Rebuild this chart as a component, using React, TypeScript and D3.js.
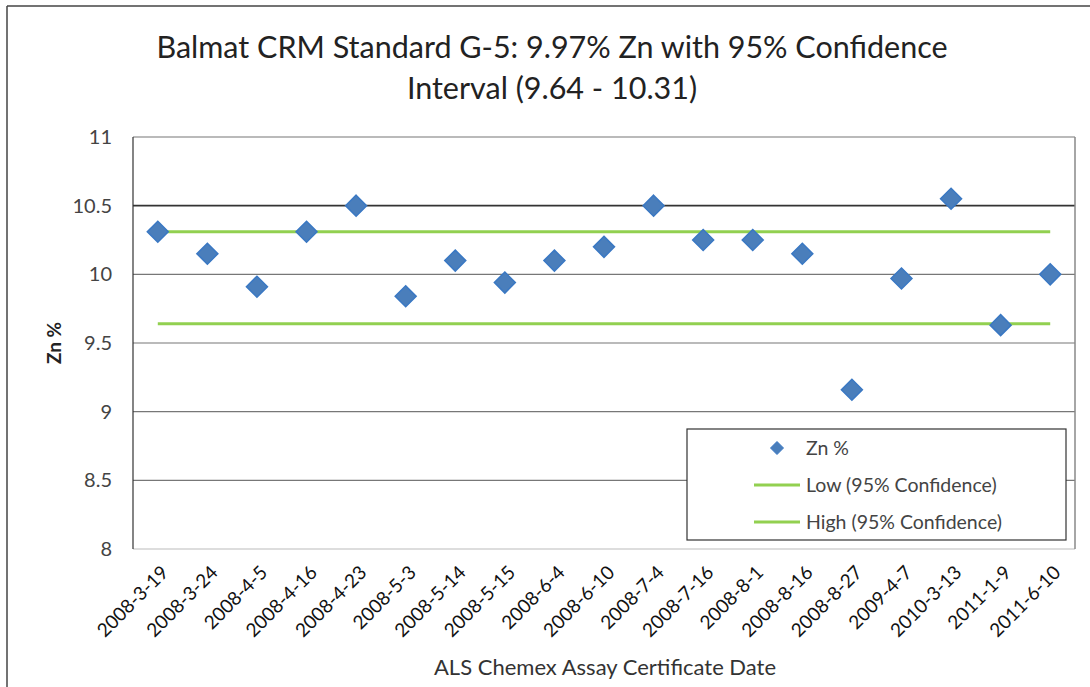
import React from "react";
import * as d3 from "d3";

const categories = ["2008-3-19","2008-3-24","2008-4-5","2008-4-16","2008-4-23","2008-5-3","2008-5-14","2008-5-15","2008-6-4","2008-6-10","2008-7-4","2008-7-16","2008-8-1","2008-8-16","2008-8-27","2009-4-7","2010-3-13","2011-1-9","2011-6-10"];
const znValues = [10.31,10.15,9.91,10.31,10.5,9.84,10.1,9.94,10.1,10.2,10.5,10.25,10.25,10.15,9.16,9.97,10.55,9.63,10.0];
const lowValue = 9.64;
const highValue = 10.31;
const yTicks = [8, 8.5, 9, 9.5, 10, 10.5, 11];

const W = 1090, H = 687;
const M = { left: 133, right: 1075, top: 137, bottom: 549 };
const FONT = "Lato, 'Open Sans', sans-serif";

export default function App() {
  const x = d3.scaleBand<string>().domain(categories).range([M.left, M.right]);
  const cx = (c: string) => (x(c) as number) + x.bandwidth() / 2;
  const y = d3.scaleLinear().domain([8, 11]).range([M.bottom, M.top]);
  const first = cx(categories[0]);
  const last = cx(categories[categories.length - 1]);
  const diamond = (px: number, py: number, r: number) =>
    `M${px},${py - r}L${px + r},${py}L${px},${py + r}L${px - r},${py}Z`;

  return (
    <svg width={W} height={H} style={{ position: "absolute", left: 0, top: 0, background: "#fff" }}>
      <rect x={0} y={0} width={W} height={H} fill="#fff" />
      {/* outer frame */}
      <line x1={7} y1={6} x2={W} y2={6} stroke="#444" strokeWidth={1.5} />
      <line x1={7} y1={6} x2={7} y2={H} stroke="#444" strokeWidth={1.5} />
      {/* title */}
      <text x={552} y={58} textAnchor="middle" fontFamily={FONT} fontSize={30.5} fill="#222">
        Balmat CRM Standard G-5: 9.97% Zn with 95% Confidence
      </text>
      <text x={552} y={99} textAnchor="middle" fontFamily={FONT} fontSize={30.5} fill="#222">
        Interval (9.64 - 10.31)
      </text>
      {/* gridlines */}
      {yTicks.map((t) => (
        <line key={t} x1={M.left} x2={M.right} y1={y(t)} y2={y(t)}
          stroke={t === 10.5 ? "#333" : t === 8 ? "#bbb" : "#777"} strokeWidth={t === 10.5 ? 1.6 : 1.2} />
      ))}
      <line x1={M.left} x2={M.left} y1={M.top} y2={M.bottom} stroke="#333" strokeWidth={1.2} />
      <line x1={M.right} x2={M.right} y1={M.top} y2={M.bottom} stroke="#888" strokeWidth={1.5} />
      {/* y tick labels */}
      {yTicks.map((t) => (
        <text key={t} x={112} y={y(t) + 7} textAnchor="end" fontFamily={FONT} fontSize={20} fill="#444">
          {String(t)}
        </text>
      ))}
      <text transform={`translate(61,${343}) rotate(-90)`} textAnchor="middle"
        fontFamily={FONT} fontSize={19} fontWeight="bold" fill="#222">Zn %</text>
      {/* x tick labels */}
      {categories.map((c) => (
        <text key={c} transform={`translate(${cx(c) + 7},${M.bottom + 20}) rotate(-45)`} textAnchor="end"
          dy="0.35em" fontFamily={FONT} fontSize={19} fill="#111">{c}</text>
      ))}
      <text x={605} y={675} textAnchor="middle" fontFamily={FONT} fontSize={22} fill="#333">
        ALS Chemex Assay Certificate Date
      </text>
      {/* confidence lines */}
      <line x1={first} x2={last} y1={y(highValue)} y2={y(highValue)} stroke="#92D050" strokeWidth={3} />
      <line x1={first} x2={last} y1={y(lowValue)} y2={y(lowValue)} stroke="#92D050" strokeWidth={3} />
      {/* points */}
      {znValues.map((v, i) => (
        <path key={i} d={diamond(cx(categories[i]), y(v), 10.5)} fill="#4A7EBB" stroke="#3A78C3" strokeWidth={1.5} />
      ))}
      {/* legend */}
      <rect x={687} y={429} width={379} height={111} fill="#fff" stroke="#333" strokeWidth={1.2} />
      <path d={diamond(777, 448, 6.5)} fill="#4A7EBB" stroke="#3A78C3" strokeWidth={1} />
      <text x={806} y={455} fontFamily={FONT} fontSize={19.5} fill="#444">Zn %</text>
      <line x1={754} x2={800} y1={485} y2={485} stroke="#92D050" strokeWidth={3} />
      <text x={806} y={492} fontFamily={FONT} fontSize={19.5} fill="#444">Low (95% Confidence)</text>
      <line x1={754} x2={800} y1={522} y2={522} stroke="#92D050" strokeWidth={3} />
      <text x={806} y={529} fontFamily={FONT} fontSize={19.5} fill="#444">High (95% Confidence)</text>
    </svg>
  );
}
